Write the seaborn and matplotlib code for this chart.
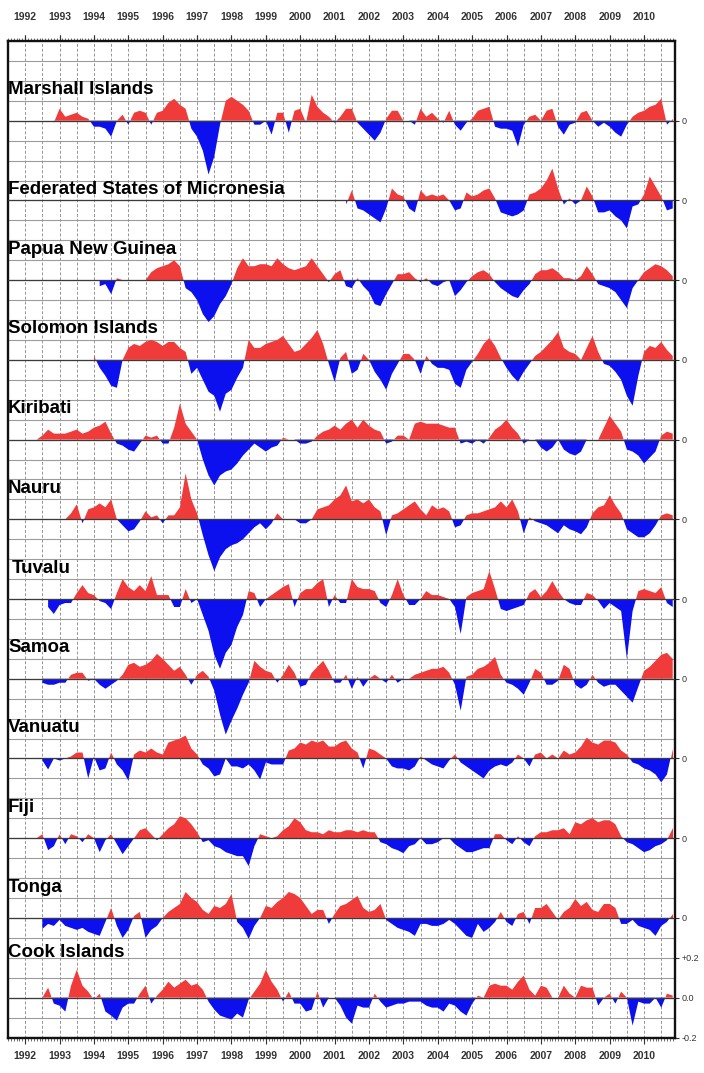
import numpy as np
import pandas as pd
import matplotlib
matplotlib.use("Agg")
import matplotlib.pyplot as plt
from matplotlib.ticker import FixedLocator, MultipleLocator
import seaborn as sns

# ---------------- data (sea-level / anomaly style series, 2-month steps) ----------------
STEP = 1 / 6
YEARS = list(range(1992, 2011))
YEAR_LABELS = [str(y) for y in YEARS]

names = ["Marshall Islands", "Federated States of Micronesia", "Papua New Guinea",
         "Solomon Islands", "Kiribati", "Nauru", "Tuvalu", "Samoa", "Vanuatu",
         "Fiji", "Tonga", "Cook Islands"]

starts = [1992 + 5/6, 2001 + 2/6, 1994 + 1/6, 1994.0, 1992 + 2/6, 1993 + 1/6,
          1992 + 4/6, 1992.5, 1992.5, 1992 + 2/6, 1992.5, 1992.5]

marshall = [-0.01,
    0.06, 0.02, 0.03, 0.04, 0.02, 0.01,
    -0.03, -0.03, -0.04, -0.08, 0.00, 0.03,
    -0.02, 0.04, 0.05, 0.04, -0.02, 0.04,
    0.05, 0.09, 0.11, 0.08, 0.06, -0.04,
    -0.08, -0.15, -0.27, -0.18, -0.02, 0.10,
    0.12, 0.10, 0.08, 0.05, -0.02, -0.02,
    0.00, -0.07, 0.04, 0.04, -0.06, 0.05,
    0.06, -0.01, 0.13, 0.07, 0.04, 0.02,
    -0.01, 0.02, 0.06, 0.06, -0.01, -0.04,
    -0.07, -0.10, -0.06, 0.01, 0.05, 0.05,
    0.00, 0.00, -0.02, 0.06, 0.02, 0.04,
    0.01, -0.01, 0.05, -0.02, -0.05, -0.01,
    0.01, 0.05, 0.06, 0.07, -0.03, -0.04,
    -0.04, -0.05, -0.13, -0.02, 0.02, 0.03,
    0.00, 0.05, 0.06, -0.03, -0.07, -0.02,
    -0.01, 0.04, 0.05, 0.00, -0.03, -0.01,
    -0.03, -0.06, -0.08, -0.02, 0.02, 0.04,
    0.05, 0.07, 0.08, 0.11, -0.02, 0.01]

micronesia = [-0.02, 0.05, -0.04, -0.05,
    -0.07, -0.09, -0.11, -0.04, 0.06, 0.03,
    0.02, -0.04, -0.06, 0.05, 0.02, 0.03,
    0.02, 0.03, 0.00, -0.05, -0.04, 0.04,
    0.02, 0.03, 0.05, 0.06, 0.01, -0.06,
    -0.07, -0.08, -0.07, -0.05, 0.03, 0.04,
    0.06, 0.10, 0.16, 0.06, -0.02, 0.01,
    -0.02, 0.00, 0.07, 0.02, -0.06, -0.06,
    -0.05, -0.08, -0.10, -0.14, -0.03, -0.02,
    0.03, 0.12, 0.07, 0.02, -0.05, -0.04]

png = [-0.03, -0.02, -0.07, 0.01, 0.00,
    0.00, 0.00, 0.00, 0.00, 0.04, 0.06,
    0.07, 0.08, 0.10, 0.07, -0.04, -0.06,
    -0.10, -0.17, -0.21, -0.18, -0.12, -0.08,
    -0.02, 0.06, 0.11, 0.07, 0.07, 0.08,
    0.08, 0.07, 0.11, 0.08, 0.06, 0.05,
    0.06, 0.07, 0.11, 0.07, 0.03, -0.01,
    0.03, 0.05, -0.03, -0.04, 0.01, -0.03,
    -0.06, -0.12, -0.13, -0.07, -0.02, 0.03,
    0.03, 0.04, 0.01, -0.01, 0.01, -0.02,
    -0.03, -0.01, 0.00, -0.08, -0.05, -0.01,
    0.02, 0.04, 0.05, 0.03, -0.01, -0.04,
    -0.06, -0.08, -0.09, -0.05, -0.02, 0.03,
    0.05, 0.05, 0.06, 0.04, 0.01, 0.01,
    0.00, 0.02, 0.07, 0.03, -0.02, -0.03,
    -0.04, -0.06, -0.10, -0.14, -0.04, 0.00,
    0.04, 0.06, 0.08, 0.07, 0.05, 0.02]

solomon = [0.02, -0.04, -0.08, -0.13, -0.14, 0.00,
    0.06, 0.08, 0.07, 0.09, 0.10, 0.09,
    0.07, 0.09, 0.09, 0.06, 0.04, -0.07,
    -0.04, -0.10, -0.16, -0.18, -0.26, -0.17,
    -0.15, -0.09, -0.04, 0.10, 0.06, 0.06,
    0.08, 0.09, 0.10, 0.12, 0.08, 0.04,
    0.05, 0.08, 0.11, 0.15, 0.08, -0.02,
    -0.11, 0.01, 0.04, -0.07, -0.05, 0.03,
    0.00, -0.06, -0.10, -0.15, -0.07, -0.02,
    0.03, 0.03, 0.00, -0.07, 0.02, -0.02,
    -0.04, -0.04, -0.05, -0.12, -0.14, -0.05,
    -0.01, 0.03, 0.08, 0.11, 0.07, 0.01,
    -0.04, -0.08, -0.11, -0.06, -0.02, 0.02,
    0.04, 0.07, 0.10, 0.14, 0.06, 0.04,
    0.03, 0.00, 0.06, 0.12, 0.04, -0.02,
    -0.03, -0.06, -0.10, -0.18, -0.23, -0.08,
    0.04, 0.07, 0.06, 0.09, 0.05, 0.02]

kiribati = [0.00, 0.02, 0.05, 0.03,
    0.03, 0.03, 0.04, 0.05, 0.03, 0.04,
    0.06, 0.07, 0.09, 0.03, -0.02, -0.03,
    -0.05, -0.06, -0.02, 0.02, 0.01, 0.02,
    -0.02, -0.02, 0.06, 0.18, 0.08, 0.04,
    0.00, -0.10, -0.18, -0.23, -0.18, -0.16,
    -0.15, -0.12, -0.08, -0.05, -0.02, -0.04,
    -0.06, -0.04, -0.03, 0.01, 0.00, 0.00,
    -0.02, -0.02, -0.01, 0.02, 0.04, 0.05,
    0.07, 0.05, 0.08, 0.10, 0.06, 0.10,
    0.07, 0.05, 0.04, -0.02, -0.01, 0.02,
    0.02, 0.00, 0.08, 0.09, 0.08, 0.08,
    0.08, 0.07, 0.06, 0.06, -0.02, -0.01,
    -0.02, 0.00, -0.02, 0.01, 0.05, 0.07,
    0.10, 0.06, 0.03, -0.02, 0.00, 0.00,
    -0.04, -0.06, -0.04, 0.00, -0.05, -0.07,
    -0.08, -0.06, 0.00, 0.00, 0.00, 0.06,
    0.12, 0.08, 0.04, -0.05, -0.06, -0.08,
    -0.12, -0.09, -0.06, 0.02, 0.04, 0.03]

nauru = [0.00, 0.03, 0.075, -0.02, 0.05,
    0.06, 0.08, 0.06, 0.10, 0.00, -0.03,
    -0.06, -0.05, -0.01, 0.04, 0.01, 0.02,
    -0.02, 0.02, 0.02, 0.06, 0.23, 0.10,
    0.03, -0.08, -0.18, -0.26, -0.19, -0.15,
    -0.13, -0.12, -0.10, -0.07, -0.04, -0.02,
    -0.05, -0.02, 0.03, 0.00, 0.00, 0.00,
    -0.02, -0.02, 0.00, 0.05, 0.06, 0.07,
    0.10, 0.12, 0.17, 0.09, 0.10, 0.08,
    0.10, 0.06, 0.04, -0.08, 0.02, 0.03,
    0.05, 0.07, 0.09, 0.05, 0.02, 0.07,
    0.05, 0.06, 0.04, -0.04, -0.03, 0.02,
    0.03, 0.03, 0.04, 0.05, 0.06, 0.09,
    0.06, 0.10, 0.04, -0.07, 0.01, -0.01,
    -0.02, -0.03, -0.05, -0.07, -0.03, -0.05,
    -0.06, -0.075, -0.04, 0.03, 0.06, 0.07,
    0.12, 0.07, 0.03, -0.05, -0.07, -0.09,
    -0.09, -0.07, -0.03, 0.02, 0.03, 0.02]

tuvalu = [-0.04, -0.075,
    -0.03, -0.02, -0.02, 0.03, 0.07, 0.03,
    0.02, -0.01, -0.02, -0.05, 0.03, 0.10,
    0.06, 0.04, 0.07, 0.04, 0.115, 0.02,
    0.02, 0.02, -0.04, -0.04, 0.05, -0.02,
    0.00, -0.08, -0.16, -0.28, -0.35, -0.27,
    -0.23, -0.14, -0.08, 0.04, 0.03, -0.04,
    0.00, 0.02, 0.04, 0.06, 0.075, -0.04,
    0.03, 0.05, 0.05, 0.08, 0.10, -0.04,
    0.02, -0.02, -0.02, 0.10, 0.06, 0.05,
    0.05, 0.04, -0.02, -0.04, 0.02, 0.10,
    0.02, -0.03, -0.03, 0.00, 0.04, 0.02,
    0.02, 0.01, 0.00, -0.04, -0.175, 0.01,
    0.03, 0.04, 0.05, 0.14, 0.05, -0.05,
    -0.06, -0.05, -0.04, -0.03, 0.03, 0.05,
    0.01, 0.04, 0.09, 0.04, 0.00, -0.02,
    -0.03, -0.03, 0.03, 0.02, -0.01, -0.05,
    -0.02, -0.04, -0.06, -0.30, -0.06, 0.04,
    0.05, 0.04, 0.03, 0.06, -0.02, -0.04]

samoa = [-0.02, -0.03, -0.03,
    -0.02, -0.02, 0.02, 0.03, 0.03, -0.01,
    0.00, -0.03, -0.05, -0.03, -0.01, 0.02,
    0.07, 0.08, 0.06, 0.07, 0.09, 0.125,
    0.10, 0.07, 0.04, 0.06, 0.02, -0.03,
    0.02, 0.04, 0.01, -0.06, -0.18, -0.28,
    -0.21, -0.15, -0.08, -0.02, 0.09, 0.06,
    0.04, 0.03, -0.02, 0.02, 0.07, 0.03,
    -0.04, -0.03, 0.03, 0.06, 0.09, 0.04,
    -0.02, -0.02, 0.02, -0.05, 0.01, -0.04,
    0.00, 0.02, 0.00, -0.02, 0.02, -0.02,
    0.00, 0.00, 0.02, 0.03, 0.04, 0.05,
    0.05, 0.06, 0.03, -0.03, -0.16, 0.01,
    0.02, 0.05, 0.06, 0.08, 0.11, 0.02,
    -0.02, -0.03, -0.05, -0.08, -0.02, 0.05,
    0.03, -0.03, -0.03, -0.01, 0.07, 0.05,
    -0.03, -0.05, -0.03, 0.02, -0.02, -0.04,
    -0.03, -0.03, -0.06, -0.09, -0.12, -0.04,
    0.04, 0.06, 0.09, 0.12, 0.13, 0.10]

vanuatu = [-0.01, -0.055, 0.00,
    -0.01, 0.00, 0.01, 0.03, 0.03, -0.10,
    0.01, -0.06, -0.05, 0.03, -0.03, -0.06,
    -0.11, 0.02, 0.04, 0.03, 0.05, 0.03,
    0.02, 0.08, 0.09, 0.10, 0.115, 0.05,
    0.02, -0.03, -0.05, -0.09, -0.08, 0.00,
    -0.04, -0.04, -0.05, -0.03, -0.06, -0.105,
    -0.02, -0.03, -0.03, -0.03, 0.04, 0.05,
    0.08, 0.07, 0.09, 0.08, 0.09, 0.06,
    0.06, 0.08, 0.09, 0.05, 0.03, -0.05,
    0.05, 0.04, 0.02, 0.00, -0.04, -0.05,
    -0.05, -0.06, -0.04, 0.01, -0.01, -0.03,
    -0.04, -0.05, -0.01, 0.02, -0.02, -0.04,
    -0.06, -0.08, -0.10, -0.06, -0.04, -0.03,
    -0.04, -0.02, 0.02, 0.00, -0.04, 0.02,
    0.03, 0.00, 0.02, 0.00, 0.04, 0.02,
    0.03, 0.06, 0.105, 0.08, 0.07, 0.09,
    0.09, 0.08, 0.04, 0.02, -0.02, -0.03,
    -0.05, -0.06, -0.08, -0.12, -0.08, 0.05]

fiji = [0.00, 0.02, -0.06, -0.04,
    0.02, -0.03, 0.02, 0.01, -0.02, 0.02,
    0.00, -0.07, -0.01, 0.02, -0.03, -0.08,
    -0.04, 0.00, 0.04, 0.05, 0.02, -0.01,
    0.02, 0.05, 0.07, 0.11, 0.10, 0.07,
    0.03, -0.02, -0.01, -0.04, -0.05, -0.07,
    -0.08, -0.09, -0.09, -0.14, -0.04, 0.02,
    0.01, 0.00, 0.01, 0.04, 0.06, 0.10,
    0.08, 0.04, 0.03, 0.03, 0.02, 0.04,
    0.03, 0.03, 0.04, 0.04, 0.03, 0.04,
    0.03, 0.03, -0.02, -0.03, -0.05, -0.06,
    -0.075, -0.04, -0.03, 0.00, -0.03, -0.03,
    -0.02, 0.00, 0.00, -0.03, -0.05, -0.07,
    -0.07, -0.06, -0.05, -0.05, 0.02, 0.02,
    -0.01, -0.03, 0.01, -0.02, -0.04, 0.01,
    0.03, 0.03, 0.04, 0.04, 0.05, 0.02,
    0.08, 0.07, 0.09, 0.10, 0.08, 0.09,
    0.09, 0.07, 0.01, -0.02, -0.03, -0.05,
    -0.07, -0.06, -0.04, -0.03, -0.01, 0.05]

tonga = [-0.055, -0.03, -0.04,
    -0.01, -0.04, -0.05, -0.06, -0.05, -0.07,
    -0.08, -0.09, -0.02, 0.05, -0.04, -0.10,
    -0.06, 0.01, 0.03, -0.10, -0.06, -0.04,
    0.00, 0.03, 0.05, 0.07, 0.13, 0.10,
    0.08, 0.04, 0.02, 0.06, 0.05, 0.07,
    0.12, -0.02, -0.05, -0.105, -0.04, 0.00,
    0.06, 0.05, 0.08, 0.10, 0.13, 0.12,
    0.10, 0.06, 0.02, 0.04, 0.04, -0.03,
    0.02, 0.06, 0.07, 0.09, 0.11, 0.05,
    0.03, 0.04, 0.07, -0.01, -0.03, -0.05,
    -0.06, -0.07, -0.09, -0.03, -0.03, -0.04,
    -0.04, -0.03, -0.01, -0.03, -0.06, -0.09,
    -0.10, -0.03, -0.07, -0.05, -0.02, 0.03,
    -0.02, -0.04, 0.02, 0.03, -0.03, 0.05,
    0.05, 0.07, 0.03, -0.01, 0.03, 0.05,
    0.095, 0.06, 0.08, 0.04, 0.03, 0.07,
    0.07, 0.05, -0.03, -0.03, -0.01, -0.04,
    -0.05, -0.06, -0.09, -0.04, -0.02, 0.02]

cook = [0.00, 0.05, -0.03,
    -0.04, -0.07, 0.06, 0.14, 0.06, 0.03,
    -0.01, 0.02, -0.07, -0.09, -0.115, -0.05,
    -0.03, -0.03, 0.02, 0.06, -0.03, 0.01,
    0.04, 0.08, 0.05, 0.07, 0.09, 0.06,
    0.07, 0.04, -0.02, -0.06, -0.09, -0.10,
    -0.11, -0.08, -0.10, -0.01, 0.03, 0.07,
    0.14, 0.08, 0.04, -0.02, 0.03, -0.03,
    -0.03, -0.07, -0.06, 0.03, -0.05, 0.00,
    0.00, -0.04, -0.10, -0.13, -0.04, -0.05,
    -0.05, 0.02, -0.02, -0.05, -0.04, -0.03,
    -0.03, -0.02, -0.02, -0.02, -0.04, -0.05,
    -0.05, -0.07, -0.03, -0.04, -0.07, -0.09,
    -0.03, 0.01, 0.00, 0.06, 0.07, 0.06,
    0.06, 0.04, 0.08, 0.11, 0.04, 0.01,
    0.06, 0.05, 0.00, 0.00, 0.06, 0.02,
    0.00, 0.06, 0.05, 0.05, -0.04, 0.00,
    0.02, -0.03, 0.03, 0.00, -0.14, -0.02,
    -0.03, -0.03, 0.00, -0.05, 0.02, 0.01]

series = [marshall, micronesia, png, solomon, kiribati, nauru, tuvalu,
          samoa, vanuatu, fiji, tonga, cook]

right_extra_vals = [0.2, 0.0, -0.2]
right_extra_labels = ["+0.2", "0.0", "-0.2"]

# ---------------- styling ----------------
RED = "#f03b3b"
BLUE = "#0c10ee"
SPACING = 0.4
X_MIN, X_MAX = 1991.5, 2010.9
Y_MIN, Y_MAX = -4.6, 0.4
label_dy = [0.155, 0.055, 0.155, 0.155, 0.155, 0.155, 0.155, 0.155, 0.155, 0.155, 0.155, 0.225]
label_dx = [0, 0, 0, 0, 0, 0, 0.12, 0, 0, 0, 0, 0]

sns.set_style("white")
plt.rcParams["font.family"] = ["Liberation Sans", "DejaVu Sans"]

W, H = 704, 1073
fig = plt.figure(figsize=(W / 100, H / 100), dpi=100)
ax = fig.add_axes([8 / W, 1 - 1037.5 / H, 667 / W, 996.5 / H])
ax.set_xlim(X_MIN, X_MAX)
ax.set_ylim(Y_MIN, Y_MAX)

# grid
for yv in np.arange(Y_MIN, Y_MAX + 1e-9, 0.1):
    ax.axhline(yv, color="#9c9c9c", lw=0.8, zorder=0)
for xv in np.arange(1992.0, X_MAX, 0.5):
    ax.axvline(xv, color="#949494", lw=0.7, ls=(0, (3, 2)), zorder=0)

rows = []
for i, (name, start, vals) in enumerate(zip(names, starts, series)):
    off = -SPACING * i
    y = np.asarray(vals, dtype=float)
    x = start + np.arange(len(y)) * STEP
    ax.fill_between(x, off, off + y, where=y >= 0, interpolate=True,
                    color=RED, lw=0, zorder=2)
    ax.fill_between(x, off, off + y, where=y <= 0, interpolate=True,
                    color=BLUE, lw=0, zorder=2)
    rows.append(pd.DataFrame({"x": [X_MIN, X_MAX], "y": [off, off], "c": name}))
    ax.text(X_MIN + label_dx[i], off + label_dy[i], name, fontsize=13.5,
            fontweight="bold", color="black", ha="left", va="center", zorder=5)

base = pd.concat(rows, ignore_index=True)
sns.lineplot(data=base, x="x", y="y", units="c", estimator=None,
             color="#3a3a3a", lw=0.9, ax=ax, zorder=3, legend=False)

# frame
for s in ax.spines.values():
    s.set_visible(True)
    s.set_linewidth(1.7)
    s.set_color("#111111")

# x axis: bottom labels
ax.xaxis.set_major_locator(FixedLocator(YEARS))
ax.set_xticklabels(YEAR_LABELS)
ax.xaxis.set_minor_locator(MultipleLocator(1 / 12))
ax.tick_params(axis="x", which="major", direction="out", length=4, width=0.8,
               bottom=True, top=True, labelbottom=True, labeltop=False,
               labelsize=7.5, pad=6, colors="#333333")
ax.tick_params(axis="x", which="minor", direction="out", length=2, width=0.6,
               bottom=True, top=True, colors="#555555")
for lab in ax.get_xticklabels():
    lab.set_fontweight("bold")

sec = ax.secondary_xaxis("top")
sec.xaxis.set_major_locator(FixedLocator(YEARS))
sec.set_xticklabels(YEAR_LABELS)
sec.tick_params(axis="x", which="major", length=4, width=0.8, labelsize=7.5,
                pad=10, colors="#333333")
sec.spines["top"].set_visible(False)
for lab in sec.get_xticklabels():
    lab.set_fontweight("bold")

# y axis: right side labels
yt = [-SPACING * i for i in range(len(names) - 1)]
yl = ["0"] * (len(names) - 1)
cook_off = -SPACING * (len(names) - 1)
yt += [cook_off + v for v in right_extra_vals]
yl += right_extra_labels
ax.yaxis.tick_right()
ax.set_yticks(yt)
ax.set_yticklabels(yl)
ax.tick_params(axis="y", which="major", direction="out", length=3, width=0.8,
               left=False, right=True, labelsize=6.5, pad=2, colors="#333333")
ax.set_xlabel("")
ax.set_ylabel("")

fig.savefig("out.png", dpi=100)
